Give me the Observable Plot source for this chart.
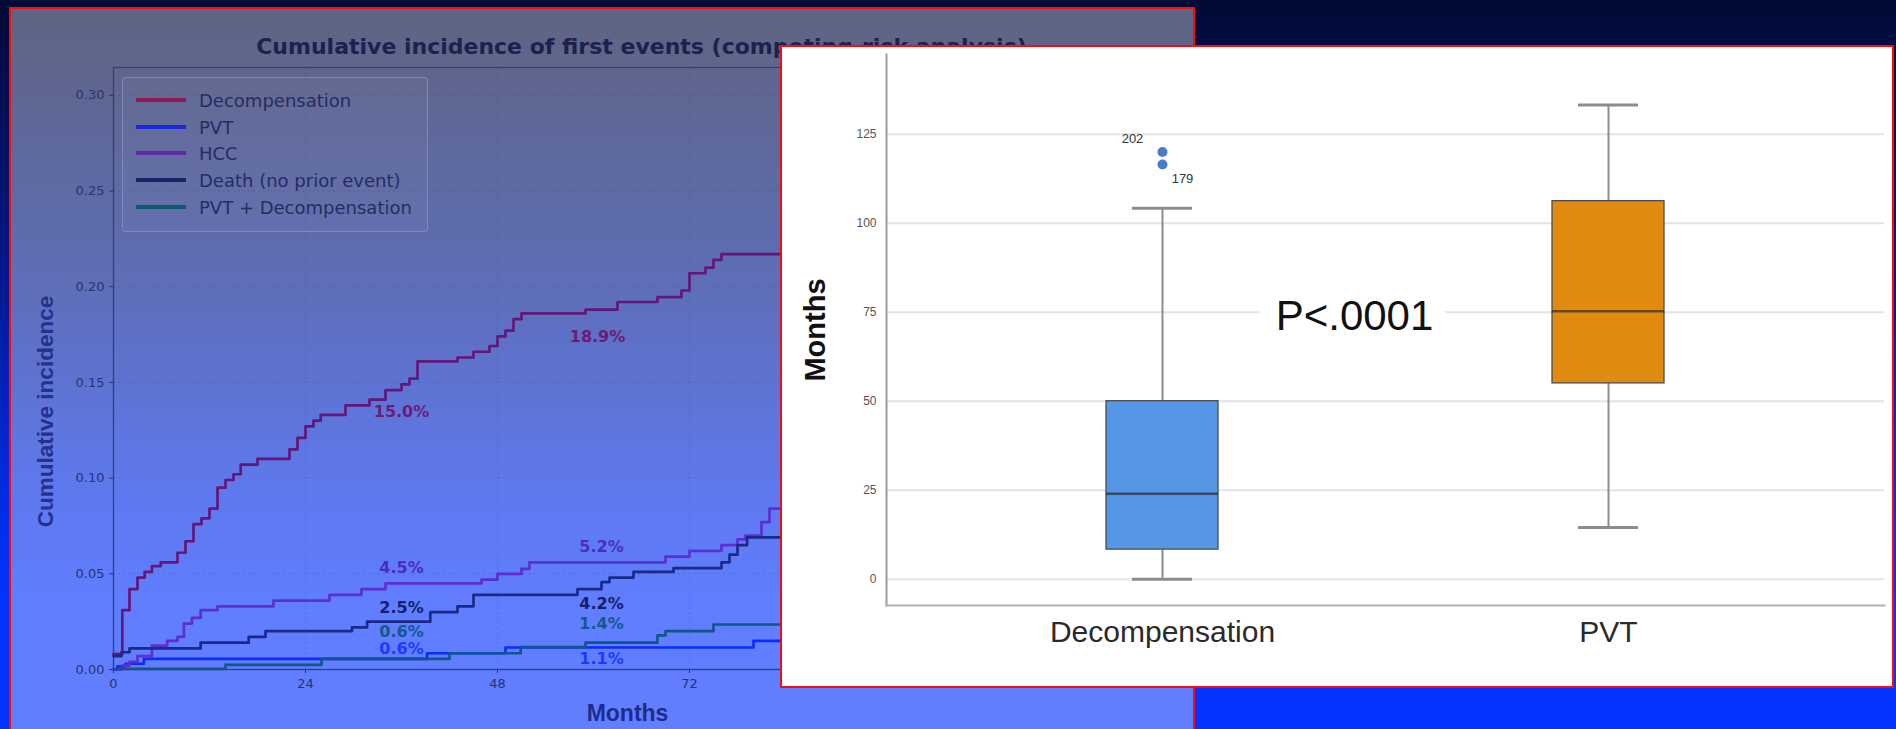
<!DOCTYPE html>
<html><head><meta charset="utf-8">
<script src="https://cdn.jsdelivr.net/npm/d3@7"></script>
<script src="https://cdn.jsdelivr.net/npm/@observablehq/plot@0.6"></script>
<style>
html,body{margin:0;padding:0;}
body{width:1896px;height:729px;overflow:hidden;position:relative;
 background:linear-gradient(180deg,#000a35 0%,#00198c 38%,#002ce6 68%,#0433ff 84%,#0433ff 100%);
 font-family:"DejaVu Sans",sans-serif;}
#panel{position:absolute;left:9px;top:7px;width:1186px;height:760px;border:2.5px solid #ff0a0a;background:rgba(255,255,255,0.37);box-sizing:border-box}
#left{position:absolute;left:0;top:0;}
#legend{position:absolute;left:122px;top:77px;width:306px;height:155px;box-sizing:border-box;border:1px solid rgba(180,186,220,0.35);border-radius:4px;background:rgba(255,255,255,0.03);}
.row{position:absolute;left:13px;height:22px;display:flex;align-items:center}
.sw{width:50px;height:4px;margin-right:13px}
.lab{font:18px "DejaVu Sans";color:#252c62;white-space:nowrap}
#inset{position:absolute;left:780px;top:45px;width:1114px;height:643px;box-sizing:border-box;border:2px solid #ff0a0a;background:#fff;}
#inset svg{position:absolute;left:0;top:0}
</style></head><body>
<div id="panel"></div>
<div id="left"></div>
<div id="legend"></div>
<div id="inset"></div>
<script>
// ---------- Left chart data (cumulative incidence, step functions) ----------
const seriesNames = ["Decompensation","PVT","HCC","Death (no prior event)","PVT + Decompensation"];

const decompMonths = [0,1.1,2,3,3.9,4.8,5.9,8,9,10,11,12,13,14,15,15.9,18,22,23,24,25,25.9,29,32,34,36,37,38,43,45,47,48,49,50,51,59,63,68,71,72,74,75,76,84];
const decompValues = [0.008,0.031,0.042,0.048,0.051,0.054,0.056,0.061,0.067,0.076,0.079,0.084,0.095,0.099,0.102,0.107,0.110,0.115,0.121,0.127,0.130,0.133,0.138,0.141,0.146,0.149,0.152,0.161,0.163,0.166,0.169,0.174,0.177,0.183,0.186,0.188,0.192,0.1945,0.198,0.207,0.210,0.214,0.217,0.217];

const pvtMonths = [0,0.5,1.5,3.8,39.2,49,80,84];
const pvtValues = [0,0.0016,0.003,0.0056,0.0085,0.0115,0.015,0.015];

const hccMonths = [0,1.1,2,3,4.8,6.7,8,8.8,9.8,10.9,13,20,27,31,34,46,48,51,52,69,72,76,78,79,81,82,84];
const hccValues = [0,0.002,0.004,0.007,0.0125,0.015,0.017,0.024,0.027,0.031,0.033,0.036,0.039,0.042,0.045,0.047,0.050,0.0526,0.056,0.059,0.062,0.065,0.068,0.070,0.077,0.084,0.084];

const deathMonths = [0,1,2,10.9,16.9,19,29.8,31.7,39.6,43,45,58,61,62,65,70,76,77,78,79.2,84];
const deathValues = [0.007,0.009,0.011,0.014,0.017,0.020,0.022,0.025,0.030,0.033,0.039,0.042,0.0456,0.048,0.051,0.053,0.056,0.060,0.065,0.069,0.069];

const pvtDecompMonths = [0,14,26,42,50.9,59,68,69,75,84];
const pvtDecompValues = [0.0003,0.0024,0.0055,0.0085,0.0117,0.0140,0.0178,0.020,0.0235,0.0235];

const xTicks = [0,24,48,72,96,120];
const yTicks = [0,0.05,0.10,0.15,0.20,0.25,0.30];

const labelSeries = ["Decompensation","Decompensation","HCC","HCC","Death (no prior event)","Death (no prior event)","PVT + Decompensation","PVT + Decompensation","PVT","PVT"];
const labelTexts  = ["15.0%","18.9%","4.5%","5.2%","2.5%","4.2%","0.6%","1.4%","0.6%","1.1%"];
const labelMonths = [36,60.5,36,61,36,61,36,61,36,61];
const labelYs     = [0.1345,0.174,0.0533,0.0643,0.0324,0.0345,0.0199,0.024,0.011,0.0057];

// ---------- Inset box-plot data ----------
const boxCats   = ["Decompensation","PVT"];
const boxLow    = [0, 14.5];
const boxQ1     = [8.3, 55];
const boxMedian = [24, 75.3];
const boxQ3     = [50, 106.2];
const boxHigh   = [104.2, 133.2];
const outlierIds  = ["202","179"];
const outlierCats = ["Decompensation","Decompensation"];
const outlierVals = [120, 116.5];
const insetTicks  = [0,25,50,75,100,125];
const pLabel = "P<.0001";
const pLevel = 75;

// ---------- styles ----------
const lineColors   = ["#62177a","#0b2cff","#5b2fd0","#1b2a88","#10568c"];
const legendColors = ["#8e1a52","#1a28d8","#5d2aa8","#1d2368","#0e5a6a"];
const labelColors  = {"Decompensation":"#6a1c78","PVT":"#1b3bff","HCC":"#4b2cc0","Death (no prior event)":"#16206a","PVT + Decompensation":"#135a8c"};

const seriesData = [
  [decompMonths, decompValues],[pvtMonths,pvtValues],[hccMonths,hccValues],[deathMonths,deathValues],[pvtDecompMonths,pvtDecompValues]
];
const rows = [];
seriesData.forEach(([ms, vs], k) => ms.forEach((m, i) => rows.push({series: seriesNames[k], month: m, value: vs[i]})));
const labels = labelTexts.map((t, i) => ({series: labelSeries[i], text: t, month: labelMonths[i], y: labelYs[i]}));

const axisColor = "#2b336c";
const leftPlot = Plot.plot({
  width: 1200, height: 729,
  marginTop: 67, marginBottom: 60, marginLeft: 113, marginRight: 31,
  style: {background: "transparent", overflow: "visible", fontFamily: "DejaVu Sans"},
  x: {domain: [0, 132]},
  y: {domain: [0, 0.3145]},
  color: {domain: seriesNames, range: lineColors},
  marks: [
    Plot.gridX(xTicks, {stroke: "#2a3470", strokeOpacity: 0.2, strokeDasharray: "2,3"}),
    Plot.gridY(yTicks, {stroke: "#2a3470", strokeOpacity: 0.2, strokeDasharray: "2,3"}),
    Plot.frame({stroke: "#343e78", strokeWidth: 1.3}),
    Plot.axisX(xTicks, {tickSize: 4, tickPadding: 5, fontSize: 13, color: axisColor, label: null}),
    Plot.axisY(yTicks, {tickSize: 4, tickPadding: 5, fontSize: 13, color: axisColor, label: null, tickFormat: d3.format(".2f")}),
    Plot.line(rows, {x: "month", y: "value", z: "series", stroke: "series", curve: "step-after", strokeWidth: 2.7}),
    ...seriesNames.map(s => Plot.text(labels.filter(d => d.series === s), {x: "month", y: "y", text: "text", fill: labelColors[s], fontWeight: "bold", fontSize: 16})),
    Plot.text(["Cumulative incidence of first events (competing-risk analysis)"], {frameAnchor: "top", lineAnchor: "middle", textAnchor: "middle", dy: -21, fontSize: 22, fontWeight: "bold", fontFamily: "DejaVu Sans", fill: "#1c2150"}),
    Plot.text(["Months"], {frameAnchor: "bottom", lineAnchor: "middle", textAnchor: "middle", dx: -14, dy: 44, fontSize: 23, fontWeight: "bold", fontFamily: "Liberation Sans", fill: "#1f2c8c"}),
    Plot.text(["Cumulative incidence"], {frameAnchor: "left", lineAnchor: "middle", textAnchor: "middle", rotate: -90, dx: -68, dy: 43, fontSize: 22.5, fontWeight: "bold", fontFamily: "Liberation Sans", fill: "#24318f"})
  ]
});
document.getElementById("left").appendChild(leftPlot);

// legend
const legend = document.getElementById("legend");
const rowTops = [11, 38, 64, 91, 118];
seriesNames.forEach((s, i) => {
  const r = document.createElement("div");
  r.className = "row"; r.style.top = rowTops[i] + "px";
  r.innerHTML = `<div class="sw" style="background:${legendColors[i]}"></div><div class="lab">${s}</div>`;
  legend.appendChild(r);
});

// ---------- Inset ----------
const stats = boxCats.map((c, i) => ({cat: c, lo: boxLow[i], q1: boxQ1[i], median: boxMedian[i], q3: boxQ3[i], hi: boxHigh[i]}));
const outliers = outlierIds.map((id, i) => ({id, cat: outlierCats[i], value: outlierVals[i]}));
const whisk = {stroke: "#8c8c8c", strokeWidth: 2};
const insetPlot = Plot.plot({
  width: 1110, height: 639,
  marginLeft: 104, marginRight: 8, marginTop: 7, marginBottom: 81,
  style: {background: "transparent", fontFamily: "Liberation Sans"},
  x: {type: "band", domain: boxCats, paddingInner: 0.749, paddingOuter: 0.491},
  y: {domain: [-7.4, 147.4]},
  color: {domain: boxCats, range: ["#5596e6", "#e08a10"]},
  marks: [
    Plot.ruleY(insetTicks, {stroke: "#e3e3e3", strokeWidth: 2}),
    Plot.frame({anchor: "left", stroke: "#9c9c9c", strokeWidth: 2}),
    Plot.frame({anchor: "bottom", stroke: "#b0b0b0", strokeWidth: 2}),
    Plot.axisY(insetTicks, {tickSize: 0, tickPadding: 10, fontSize: 12, color: "#555", label: null}),
    Plot.axisX({tickSize: 0, tickPadding: 15, fontSize: 30, color: "#2a2a2a", label: null}),
    Plot.ruleX(stats, {x: "cat", y1: "lo", y2: "q1", ...whisk}),
    Plot.ruleX(stats, {x: "cat", y1: "q3", y2: "hi", ...whisk}),
    Plot.tickY(stats, {x: "cat", y: "lo", insetLeft: 26, insetRight: 26, stroke: "#8c8c8c", strokeWidth: 3}),
    Plot.tickY(stats, {x: "cat", y: "hi", insetLeft: 26, insetRight: 26, stroke: "#8c8c8c", strokeWidth: 3}),
    Plot.barY(stats, {x: "cat", y1: "q1", y2: "q3", fill: "cat", stroke: "#4d4d4d", strokeWidth: 1.3}),
    Plot.tickY(stats, {x: "cat", y: "median", stroke: "#1a1a1a", strokeOpacity: 0.6, strokeWidth: 2.5}),
    Plot.dot(outliers, {x: "cat", y: "value", r: 5, fill: "#4a7bc4"}),
    Plot.text(outliers.filter(d => d.id === "202"), {x: "cat", y: "value", text: "id", dx: -30, dy: -13, fontSize: 13, fill: "#333"}),
    Plot.text(outliers.filter(d => d.id === "179"), {x: "cat", y: "value", text: "id", dx: 20, dy: 14, fontSize: 13, fill: "#333"}),
    Plot.text([{text: pLabel, level: pLevel}], {y: "level", text: "text", frameAnchor: "middle", dx: -31, dy: 4, fontSize: 42, fill: "#111", stroke: "#fff", strokeWidth: 40, strokeLinejoin: "round"}),
    Plot.text(["Months"], {frameAnchor: "left", lineAnchor: "middle", textAnchor: "middle", rotate: -90, dx: -71, fontSize: 29, fontWeight: "bold", fill: "#111"})
  ]
});
document.getElementById("inset").appendChild(insetPlot);
</script>
</body></html>
